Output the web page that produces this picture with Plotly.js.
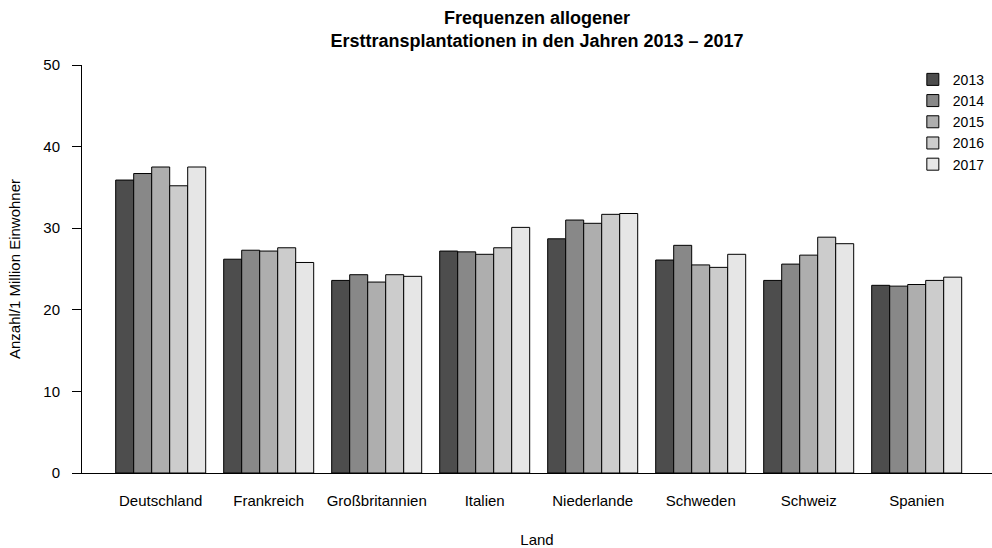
<!DOCTYPE html>
<html>
<head>
<meta charset="utf-8">
<script src="https://cdn.plot.ly/plotly-3.0.1.min.js"></script>
<style>html,body{margin:0;padding:0;background:#fff}#chart{width:992px;height:548px}</style>
</head>
<body>
<div id="chart"></div>
<script>
const countries = ["Deutschland","Frankreich","Großbritannien","Italien","Niederlande","Schweden","Schweiz","Spanien"];
const years = ["2013","2014","2015","2016","2017"];
const v2013 = [35.9, 26.2, 23.6, 27.2, 28.7, 26.1, 23.6, 23.0];
const v2014 = [36.7, 27.3, 24.3, 27.1, 31.0, 27.9, 25.6, 22.9];
const v2015 = [37.5, 27.2, 23.4, 26.8, 30.6, 25.5, 26.7, 23.1];
const v2016 = [35.2, 27.6, 24.3, 27.6, 31.7, 25.2, 28.9, 23.6];
const v2017 = [37.5, 25.8, 24.1, 30.1, 31.8, 26.8, 28.1, 24.0];
const colors = ["#4D4D4D","#888888","#AEAEAE","#CCCCCC","#E6E6E6"];
const series = [v2013, v2014, v2015, v2016, v2017];

const FONT = "Liberation Sans, Arial, Helvetica, sans-serif";

const traces = series.map((vals, i) => ({
  type: "bar",
  name: years[i],
  x: countries,
  y: vals,
  marker: {color: colors[i], line: {color: "#000", width: 1}},
  hoverinfo: "x+y+name"
}));

const layout = {
  width: 992, height: 548,
  margin: {l: 82, r: 0, t: 65, b: 75},
  paper_bgcolor: "#fff", plot_bgcolor: "#fff",
  font: {family: FONT, size: 15, color: "#000"},
  barmode: "group",
  bargap: 0.1667,
  bargroupgap: 0,
  title: {
    text: "<b>Frequenzen allogener<br>Ersttransplantationen in den Jahren 2013 – 2017</b>",
    font: {family: FONT, size: 18, color: "#000"},
    x: 0.5, xref: "paper", xanchor: "center",
    y: 1 - 24/548, yref: "container", yanchor: "top"
  },
  xaxis: {
    type: "category",
    range: [-0.7287, 7.6972],
    showgrid: false, zeroline: false,
    showline: true, linecolor: "#000", linewidth: 1,
    ticks: "", ticklabelstandoff: 14,
    tickfont: {family: FONT, size: 15, color: "#000"},
    title: {text: "Land", font: {family: FONT, size: 15, color: "#000"}, standoff: 26}
  },
  yaxis: {
    range: [0, 50],
    tickvals: [0, 10, 20, 30, 40, 50],
    showgrid: false, zeroline: false,
    showline: true, linecolor: "#000", linewidth: 1,
    ticks: "outside", ticklen: 9, tickcolor: "#000", tickwidth: 1,
    ticklabelstandoff: 9,
    tickfont: {family: FONT, size: 15, color: "#000"},
    title: {text: "Anzahl/1 Million Einwohner", font: {family: FONT, size: 15, color: "#000"}, standoff: 19}
  },
  legend: {
    x: 0.913, xanchor: "left",
    y: 1.003, yanchor: "top",
    bgcolor: "rgba(0,0,0,0)",
    font: {family: FONT, size: 14, color: "#000"},
    traceorder: "normal",
    tracegroupgap: 0
  },
  showlegend: true
};

Plotly.newPlot("chart", traces, layout, {displayModeBar: false, staticPlot: true});
</script>
</body>
</html>
